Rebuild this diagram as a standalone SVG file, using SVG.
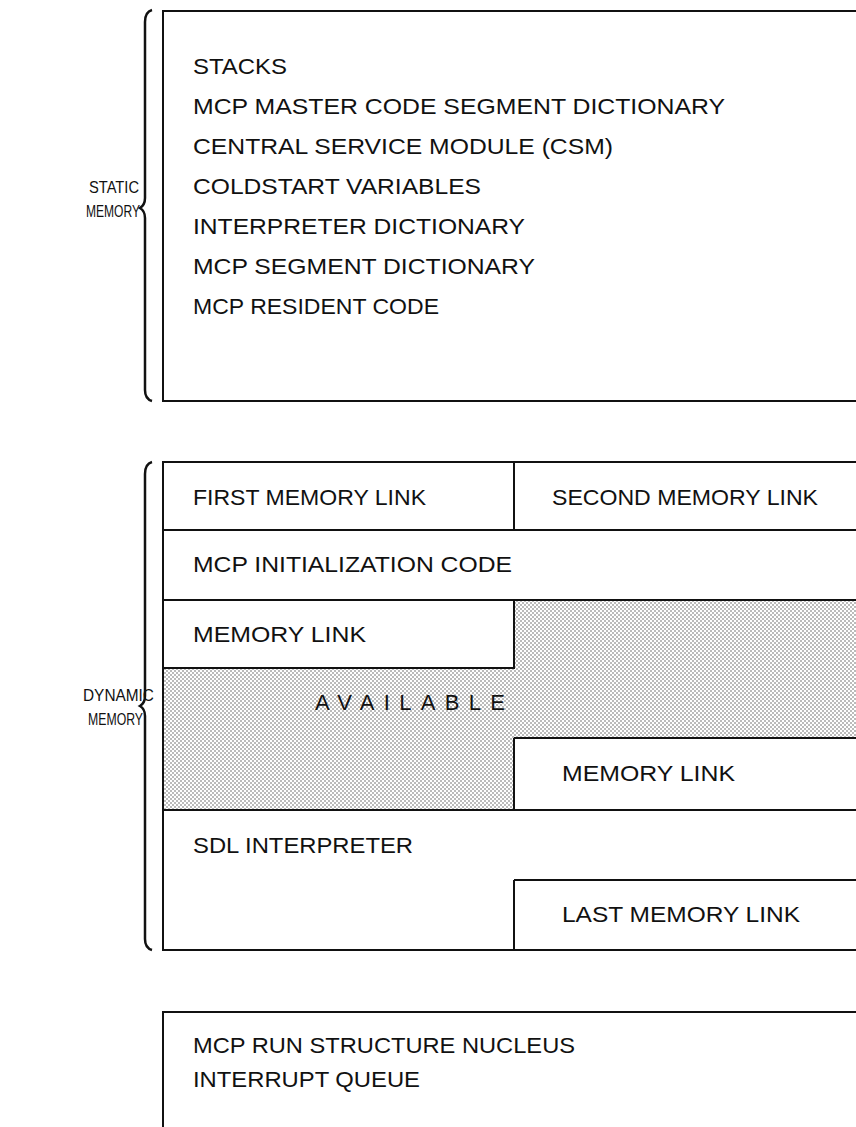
<svg xmlns="http://www.w3.org/2000/svg" width="856" height="1127" viewBox="0 0 856 1127">
<style>
.t{font-family:"Liberation Sans",Arial,sans-serif;font-size:22px;fill:#111;}
.lb{font-family:"Liberation Sans",Arial,sans-serif;font-size:17px;fill:#111;}
.ln{stroke:#111;stroke-width:2;fill:none;}
.br{stroke:#111;stroke-width:2.5;fill:none;}
</style>
<defs>
<pattern id="dots" width="4" height="4" patternUnits="userSpaceOnUse">
<rect width="4" height="4" fill="#fff"/>
<circle cx="1" cy="1" r="0.7" fill="#444"/>
<circle cx="3" cy="3" r="0.7" fill="#444"/>
</pattern>
</defs>
<rect width="856" height="1127" fill="#fff"/>

<g id="static-memory">
<path class="ln" d="M860,11 H163 V401 H860"/>
<text class="t" x="193" y="74" textLength="94" lengthAdjust="spacingAndGlyphs">STACKS</text>
<text class="t" x="193" y="114" textLength="532" lengthAdjust="spacingAndGlyphs">MCP MASTER CODE SEGMENT DICTIONARY</text>
<text class="t" x="193" y="154" textLength="420" lengthAdjust="spacingAndGlyphs">CENTRAL SERVICE MODULE (CSM)</text>
<text class="t" x="193" y="194" textLength="288" lengthAdjust="spacingAndGlyphs">COLDSTART VARIABLES</text>
<text class="t" x="193" y="234" textLength="332" lengthAdjust="spacingAndGlyphs">INTERPRETER DICTIONARY</text>
<text class="t" x="193" y="274" textLength="342" lengthAdjust="spacingAndGlyphs">MCP SEGMENT DICTIONARY</text>
<text class="t" x="193" y="314" textLength="246" lengthAdjust="spacingAndGlyphs">MCP RESIDENT CODE</text>
</g>
<g id="static-brace">
<path class="br" d="M152,10 Q145,12 145,22 V198 Q145,205 140,208 Q145,211 145,218 V390 Q145,399 152,401"/>
<text class="lb" x="89" y="193" textLength="50" lengthAdjust="spacingAndGlyphs">STATIC</text>
<text class="lb" x="86" y="217" textLength="54" lengthAdjust="spacingAndGlyphs">MEMORY</text>
</g>

<g id="dynamic-memory">
<path d="M514,600 H860 V738 H514 V810 H163 V668 H514 Z" fill="url(#dots)"/>
<path class="ln" d="M860,462 H163 V950 H860"/>
<path class="ln" d="M163,530 H860 M514,462 V530 M163,600 H860 M514,600 V668 H163 M514,738 H860 M514,738 V810 M163,810 H860 M514,880 H860 M514,880 V950"/>
<text class="t" x="193" y="505" textLength="233" lengthAdjust="spacingAndGlyphs">FIRST MEMORY LINK</text>
<text class="t" x="552" y="505" textLength="266" lengthAdjust="spacingAndGlyphs">SECOND MEMORY LINK</text>
<text class="t" x="193" y="572" textLength="319" lengthAdjust="spacingAndGlyphs">MCP INITIALIZATION CODE</text>
<text class="t" x="193" y="642" textLength="173" lengthAdjust="spacingAndGlyphs">MEMORY LINK</text>
<text class="t" x="315" y="710" textLength="190" lengthAdjust="spacing">AVAILABLE</text>
<text class="t" x="562" y="781" textLength="173" lengthAdjust="spacingAndGlyphs">MEMORY LINK</text>
<text class="t" x="193" y="853" textLength="220" lengthAdjust="spacingAndGlyphs">SDL INTERPRETER</text>
<text class="t" x="562" y="922" textLength="238" lengthAdjust="spacingAndGlyphs">LAST MEMORY LINK</text>
</g>
<g id="dynamic-brace">
<path class="br" d="M152,462 Q145,464 145,474 V696 Q145,703 140,706 Q145,709 145,716 V939 Q145,948 152,950"/>
<text class="lb" x="83" y="701" textLength="71" lengthAdjust="spacingAndGlyphs">DYNAMIC</text>
<text class="lb" x="88" y="725" textLength="55" lengthAdjust="spacingAndGlyphs">MEMORY</text>
</g>

<g id="nucleus">
<path class="ln" d="M860,1012 H163 V1130"/>
<text class="t" x="193" y="1053" textLength="382" lengthAdjust="spacingAndGlyphs">MCP RUN STRUCTURE NUCLEUS</text>
<text class="t" x="193" y="1087" textLength="227" lengthAdjust="spacingAndGlyphs">INTERRUPT QUEUE</text>
</g>
</svg>
